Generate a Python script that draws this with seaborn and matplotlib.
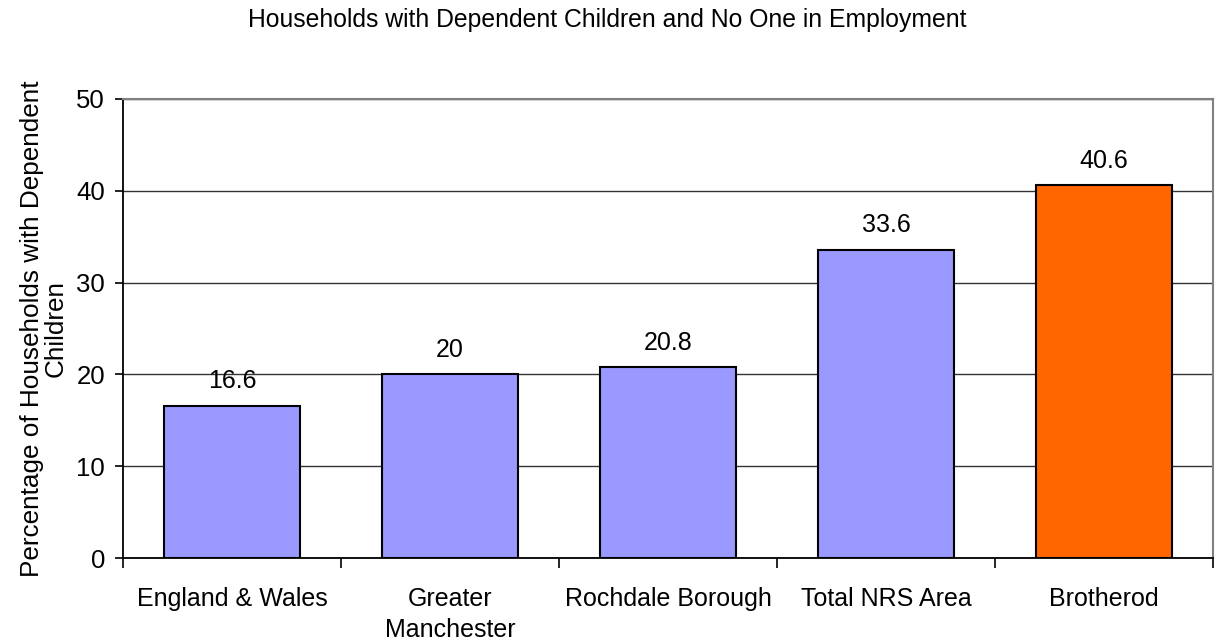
import matplotlib
matplotlib.use('Agg')
import matplotlib.pyplot as plt
import numpy as np
import pandas as pd
import seaborn as sns

# --- Datos ---
categories = ['England & Wales', 'Greater\nManchester', 'Rochdale Borough',
              'Total NRS Area', 'Brotherod']
values = [16.6, 20, 20.8, 33.6, 40.6]
bar_colors = ['#9999FF', '#9999FF', '#9999FF', '#9999FF', '#FF6600']
value_labels = ['16.6', '20', '20.8', '33.6', '40.6']
y_ticks = [0, 10, 20, 30, 40, 50]

df = pd.DataFrame({'area': categories, 'pct': values})

sns.set_theme(style='white')
plt.rcParams['font.family'] = ['Liberation Sans', 'DejaVu Sans']
plt.rcParams['text.color'] = 'black'
plt.rcParams['axes.labelcolor'] = 'black'
plt.rcParams['xtick.color'] = 'black'
plt.rcParams['ytick.color'] = 'black'

fig = plt.figure(figsize=(12.22, 6.42), dpi=100)
ax = fig.add_axes([0.1007, 0.1308, 0.8919, 0.7150])

sns.barplot(data=df, x='area', y='pct', hue='area', palette=bar_colors,
            legend=False, width=0.624, edgecolor='black', linewidth=1.5,
            saturation=1, ax=ax, zorder=3)

# Etiquetas de valores
for cont, lab in zip(ax.containers, value_labels):
    ax.bar_label(cont, labels=[lab], padding=9, fontsize=18, color='black')

ax.set_ylim(0, 50)
ax.set_xlim(-0.5, len(categories) - 0.5)
ax.set_yticks(y_ticks)
ax.yaxis.grid(True, color='#333333', linewidth=1, zorder=0)
ax.set_axisbelow(True)

# Marcas del eje x entre categorías
ax.set_xticks(np.arange(len(categories)))
ax.set_xticks(np.arange(-0.5, len(categories)), minor=True)
ax.tick_params(axis='x', which='major', length=0, pad=21, labelsize=18)
ax.tick_params(axis='x', which='minor', length=7, width=1.2,
               direction='out', bottom=True)
ax.tick_params(axis='y', length=6, width=1.2, direction='out',
               left=True, labelsize=18.5, pad=7)
for lbl in ax.get_xticklabels():
    lbl.set_linespacing(1.35)

for side in ['left', 'bottom']:
    ax.spines[side].set_color('black')
    ax.spines[side].set_linewidth(1.3)
for side in ['top', 'right']:
    ax.spines[side].set_color('#808080')
    ax.spines[side].set_linewidth(1.5)

ax.set_xlabel('')
ax.set_ylabel('Percentage of Households with Dependent\nChildren',
              fontsize=18.8, labelpad=6, linespacing=1.0)
fig.suptitle('Households with Dependent Children and No One in Employment',
             x=0.497, y=0.988, fontsize=17.8)

fig.savefig('out.png', dpi=100)
